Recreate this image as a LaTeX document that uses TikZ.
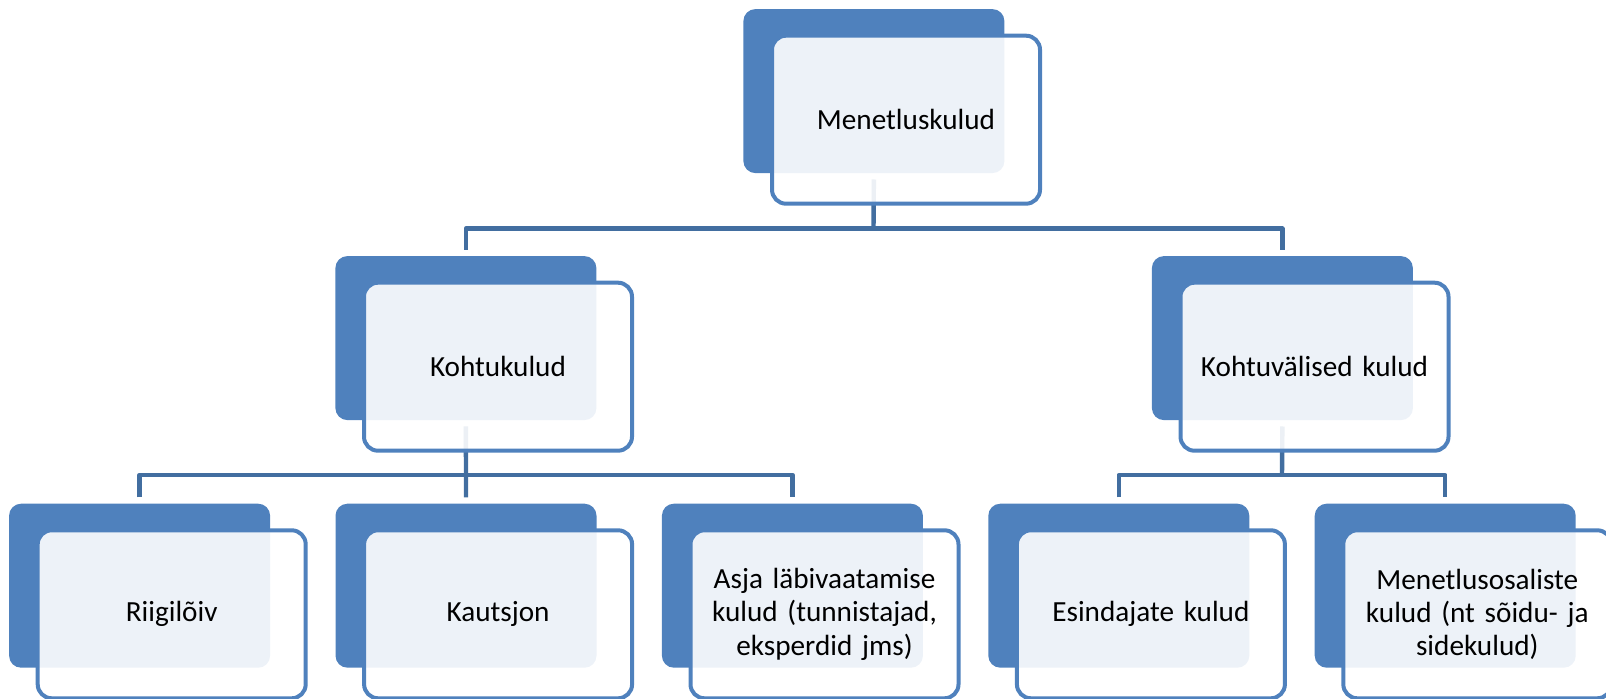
\documentclass[tikz,border=0pt]{standalone}
\usepackage{fontspec}
\setmainfont{Carlito}
\definecolor{accent}{RGB}{79,129,189}
\definecolor{connc}{RGB}{66,110,160}
\begin{document}
\begin{tikzpicture}[x=0.5pt,y=-0.5pt,
  backbox/.style={draw=none, fill=accent, rounded corners=6pt, minimum width=130.5pt, minimum height=82pt, inner sep=0pt, anchor=north west},
  frontbox/.style={draw=accent, line width=2pt, fill=white, fill opacity=0.9, text opacity=1, draw opacity=1, rounded corners=7pt, minimum width=134pt, minimum height=84pt, inner sep=0pt, anchor=north west, align=center, text width=126pt, font=\fontsize{14.6pt}{16.6pt}\selectfont},
  conn/.style={draw=connc, line width=2.2pt, line join=round}]
\useasboundingbox (0,0) rectangle (1606,699);
\clip (0,0) rectangle (1606,699);
% back boxes
\node[backbox] (bt) at (743,8.7) {};
\node[backbox] (bk) at (335,255.7) {};
\node[backbox] (bv) at (1151.5,255.7) {};
\node[backbox] (b1) at (8.7,503.3) {};
\node[backbox] (b2) at (335.1,503.3) {};
\node[backbox] (b3) at (661.5,503.3) {};
\node[backbox] (b4) at (987.9,503.3) {};
\node[backbox] (b5) at (1314.3,503.3) {};
% connectors
\coordinate (j0) at (873.5,228.7);
\coordinate (j1) at (465.5,475);
\coordinate (j2) at (1282,475);
\draw[conn, shorten <=3pt] (bt.south) -- (j0);
\draw[conn, shorten <=3pt, shorten >=3pt] (bk.north) |- (j0) -| (bv.north);
\draw[conn, shorten <=3pt, shorten >=3pt] (bk.south) -- (b2.north);
\draw[conn, shorten <=3pt, shorten >=3pt] (b1.north) |- (j1) -| (b3.north);
\draw[conn, shorten <=3pt] (bv.south) -- (j2);
\draw[conn, shorten <=3pt, shorten >=3pt] (b4.north) |- (j2) -| (b5.north);
% front boxes
\node[frontbox] (ft) at (770,33.7) {Menetluskulud};
\node[frontbox] (fk) at (362,280.7) {Kohtukulud};
\node[frontbox] (fv) at (1178.5,280.7) {Kohtuvälised kulud};
\node[frontbox] (f1) at (35.7,528.3) {Riigilõiv};
\node[frontbox] (f2) at (362.1,528.3) {Kautsjon};
\node[frontbox] (f3) at (688.5,528.3) {Asja läbivaatamise\\kulud (tunnistajad,\\eksperdid jms)};
\node[frontbox] (f4) at (1014.9,528.3) {Esindajate kulud};
\node[frontbox] (f5) at (1341.3,528.3) {Menetlusosaliste\\kulud (nt sõidu- ja\\sidekulud)};
\end{tikzpicture}
\end{document}
